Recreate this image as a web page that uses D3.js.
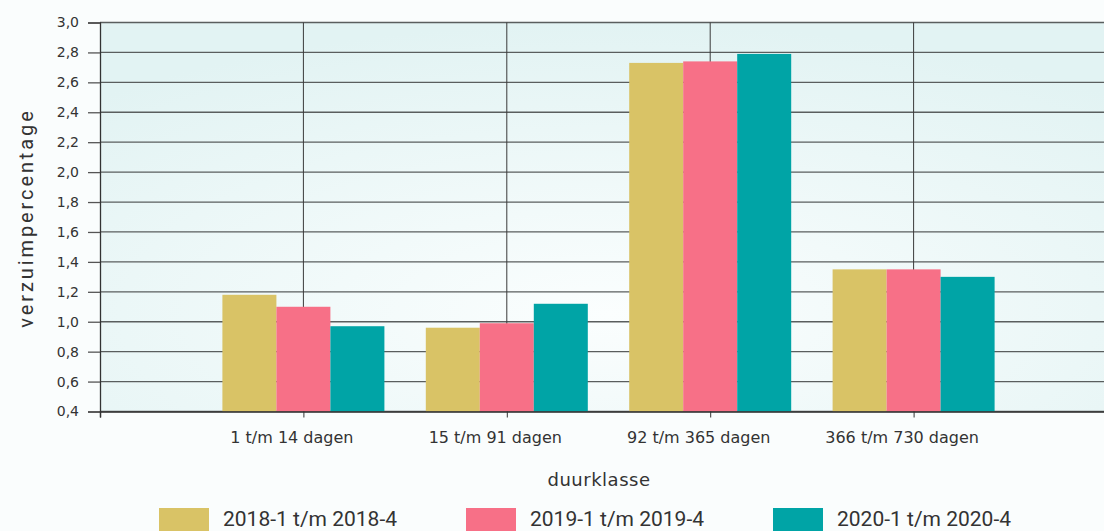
<!DOCTYPE html>
<html>
<head>
<meta charset="utf-8">
<script src="https://cdn.jsdelivr.net/npm/d3@7"></script>
<style>
    body { margin: 0; background: #fafdfd; }
    svg { display: block; font-family: 'DejaVu Sans', sans-serif; }
    .tick text { fill: #333; }
</style>
</head>
<body>
<svg id="chart"></svg>
<script>
const categories = ['1 t/m 14 dagen', '15 t/m 91 dagen', '92 t/m 365 dagen', '366 t/m 730 dagen'];
const seriesNames = ['2018-1 t/m 2018-4', '2019-1 t/m 2019-4', '2020-1 t/m 2020-4'];
const values2018 = [1.18, 0.96, 2.73, 1.35];
const values2019 = [1.10, 0.99, 2.74, 1.35];
const values2020 = [0.97, 1.12, 2.79, 1.30];
const yTicks = [0.4, 0.6, 0.8, 1.0, 1.2, 1.4, 1.6, 1.8, 2.0, 2.2, 2.4, 2.6, 2.8, 3.0];
const colors = ['#d9c366', '#f77087', '#00a4a6'];

const width = 1104, height = 531;
const svg = d3.select('#chart').attr('width', width).attr('height', height);

const plotLeft = 100, plotRight = 1117, plotTop = 22.5, plotBottom = 411.5;

// slots: empty, four categories, empty; gridlines sit on the category centres
const x = d3.scalePoint().domain(['_a'].concat(categories, ['_b'])).range([plotLeft, plotRight]);
const y = d3.scaleLinear().domain([0.4, 3.0]).range([plotBottom, plotTop]);
const groupWidth = 162;
const xs = d3.scaleBand().domain(seriesNames).range([-groupWidth / 2, groupWidth / 2]);

const defs = svg.append('defs');
const grad = defs.append('radialGradient').attr('id', 'plotBg')
    .attr('cx', '50%').attr('cy', '75%').attr('r', '75%');
grad.append('stop').attr('offset', '0%').attr('stop-color', '#fbfefe');
grad.append('stop').attr('offset', '100%').attr('stop-color', '#e2f3f3');

svg.append('rect')
    .attr('x', plotLeft).attr('y', plotTop)
    .attr('width', plotRight - plotLeft).attr('height', plotBottom - plotTop)
    .attr('fill', 'url(#plotBg)');

// horizontal gridlines
svg.append('g')
    .selectAll('line')
    .data(yTicks)
    .join('line')
    .attr('x1', plotLeft).attr('x2', plotRight)
    .attr('y1', d => y(d)).attr('y2', d => y(d))
    .attr('stroke', '#5a5e5e').attr('stroke-width', 1.3);

// vertical gridlines
svg.append('g')
    .selectAll('line')
    .data(categories)
    .join('line')
    .attr('x1', d => x(d)).attr('x2', d => x(d))
    .attr('y1', plotTop).attr('y2', plotBottom)
    .attr('stroke', '#3a3a3a').attr('stroke-width', 1);

// bars
const seriesData = [values2018, values2019, values2020];
const barGroups = svg.append('g')
    .selectAll('g')
    .data(seriesNames)
    .join('g')
    .attr('fill', (d, i) => colors[i]);
barGroups.selectAll('rect')
    .data((s, i) => categories.map((c, j) => ({cat: c, series: s, v: seriesData[i][j]})))
    .join('rect')
    .attr('x', d => x(d.cat) + xs(d.series))
    .attr('width', xs.bandwidth())
    .attr('y', d => y(d.v))
    .attr('height', d => y(0.4) - y(d.v));

// axes
const yAxis = svg.append('g')
    .attr('transform', `translate(${plotLeft},0)`)
    .call(d3.axisLeft(y).tickValues(yTicks).tickSize(12).tickPadding(9)
        .tickFormat(d => d3.format('.1f')(d).replace('.', ',')));
yAxis.select('.domain').attr('stroke', '#333').attr('stroke-width', 1.3);
yAxis.selectAll('.tick line').attr('stroke', '#555').attr('stroke-width', 1.3);
yAxis.selectAll('.tick text').attr('font-size', 14).attr('font-family', 'DejaVu Sans');

const xAxis = svg.append('g')
    .attr('transform', `translate(0,${plotBottom})`)
    .call(d3.axisBottom(x).tickValues(['_a'].concat(categories)).tickSize(6).tickPadding(14)
        .tickFormat(d => d.startsWith('_') ? '' : d));
xAxis.select('.domain').attr('stroke', '#333').attr('stroke-width', 1.5);
xAxis.selectAll('.tick line').attr('stroke', '#333');
xAxis.selectAll('.tick text')
    .attr('font-size', 16).attr('font-family', 'DejaVu Sans')
    .attr('dx', -12);

// axis titles
svg.append('text')
    .attr('transform', `translate(33,${(plotTop + plotBottom) / 2 + 1}) rotate(-90)`)
    .attr('text-anchor', 'middle')
    .attr('font-family', 'Roboto')
    .attr('font-size', 20)
    .attr('letter-spacing', 2.9)
    .attr('fill', '#333')
    .text('verzuimpercentage');

svg.append('text')
    .attr('x', 599).attr('y', 486)
    .attr('text-anchor', 'middle')
    .attr('font-size', 18)
    .attr('letter-spacing', 0.5)
    .attr('fill', '#333')
    .text('duurklasse');

// legend
const legend = svg.append('g')
    .selectAll('g')
    .data(seriesNames)
    .join('g')
    .attr('transform', (d, i) => `translate(${159 + i * 307},508)`);
legend.append('rect')
    .attr('width', 50).attr('height', 24)
    .attr('fill', (d, i) => colors[i]);
legend.append('text')
    .attr('x', 64).attr('y', 18)
    .attr('font-family', 'Roboto')
    .attr('font-size', 21)
    .attr('fill', '#333')
    .text(d => d);
</script>
</body>
</html>
